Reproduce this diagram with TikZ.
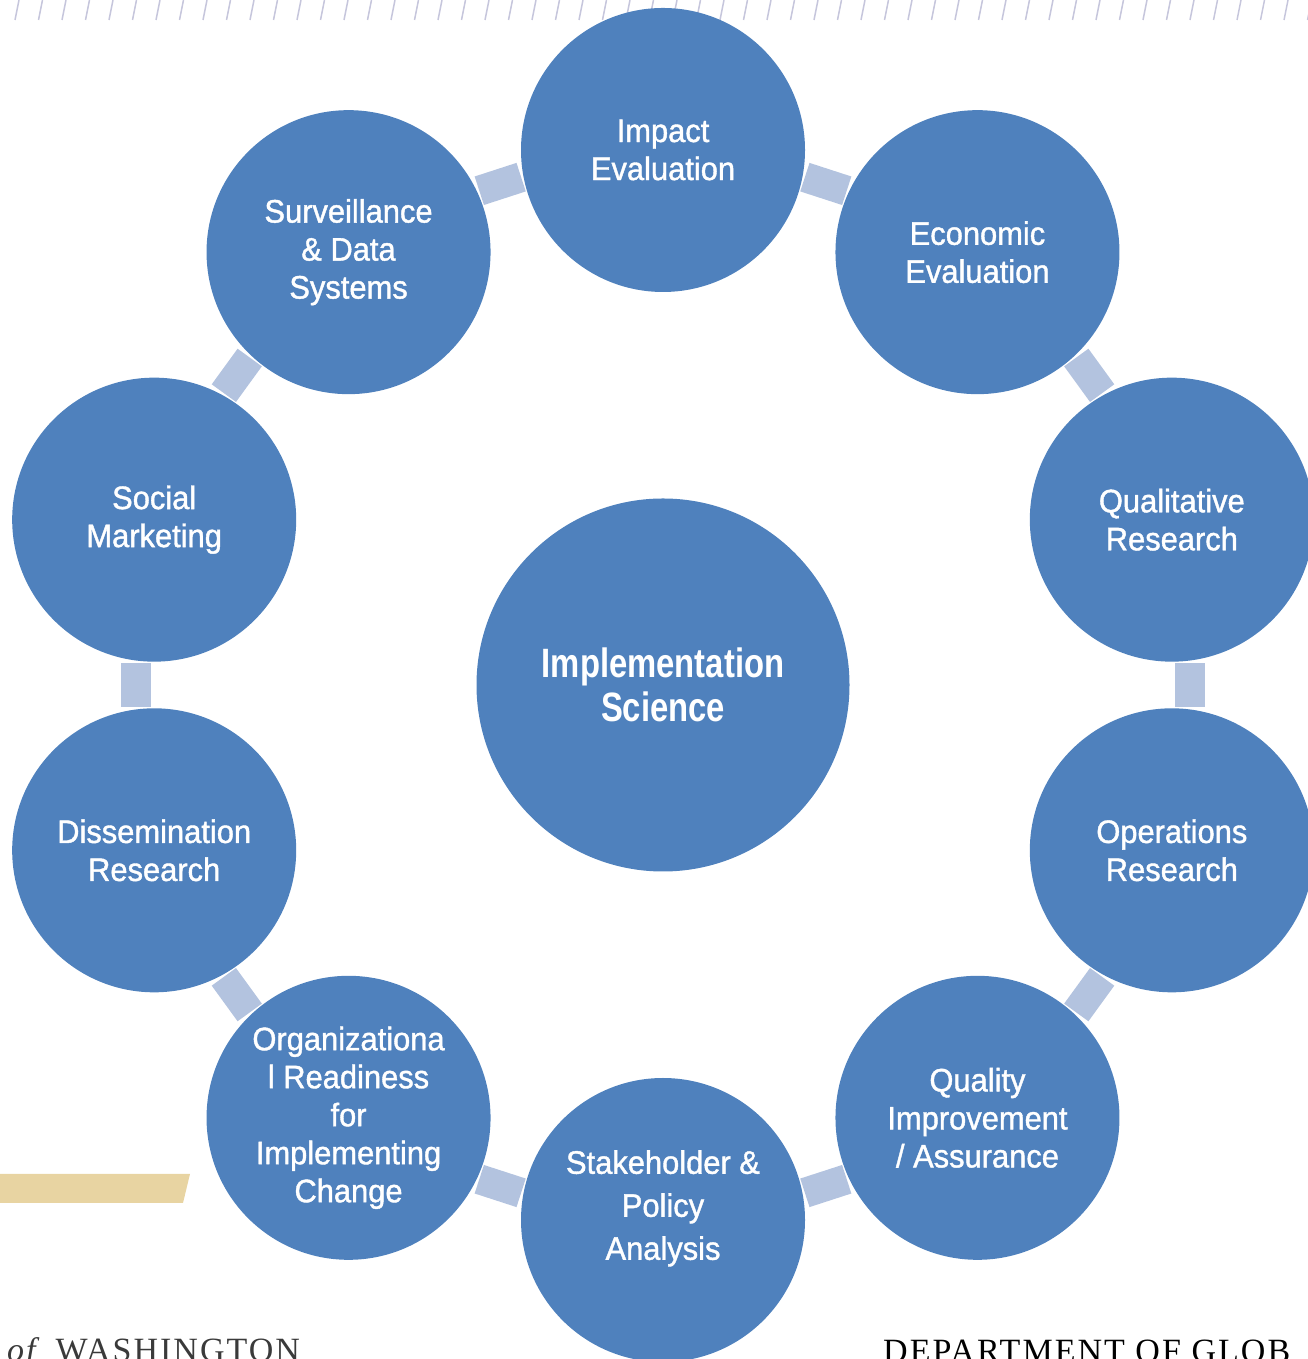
\documentclass[tikz,border=0pt]{standalone}
\usepackage{fontspec}
\usetikzlibrary{calc}

\newfontfamily\labelfont[FakeStretch=0.95,FakeBold=1.2]{Liberation Sans}
\newfontfamily\hubfont[FakeStretch=0.8]{Liberation Sans}
\newfontfamily\footfont[LetterSpace=6]{Liberation Serif}

\definecolor{ringblue}{HTML}{4F81BD}
\definecolor{linkblue}{HTML}{B3C3DF}
\definecolor{hatchgray}{HTML}{C6C6DC}
\definecolor{goldbar}{HTML}{E8D4A2}
\definecolor{footgray}{HTML}{3A3A3A}

\tikzset{
  topic/.style={circle, fill=ringblue, minimum size=284bp, inner sep=0pt,
    text=white, align=center,
    font=\labelfont\fontsize{32.5bp}{38bp}\selectfont},
  hub/.style={circle, fill=ringblue, minimum size=373bp, inner sep=0pt,
    text=white, align=center,
    font=\hubfont\bfseries\fontsize{41bp}{44bp}\selectfont},
  link/.style={rectangle, fill=linkblue, minimum width=30bp,
    minimum height=44bp, inner sep=0pt},
  hatch/.style={draw=hatchgray, line width=1.5bp},
}

\begin{document}
\begin{tikzpicture}[x=1bp, y=1bp]
  \useasboundingbox (0,0) rectangle (1308,1359);
  \clip (0,0) rectangle (1308,1359);

  % hatched rule along the top edge
  \foreach \i in {0,...,55}
    \draw[hatch] ({15+23.5*\i},1339) -- ++(4,20);

  % gold band at the lower left
  \fill[goldbar] (0,185) -- (190,185) -- (183,156) -- (0,156) -- cycle;

  % centre of the ring
  \coordinate (C) at (663,674);

  \node[hub] (hub) at (C) {Implementation\\Science};

  % the ten topics around the ring
  \node[topic] (impact)  at ($(C)+(90:535)$)   {Impact\\Evaluation};
  \node[topic] (econ)    at ($(C)+(54:535)$)   {Economic\\Evaluation};
  \node[topic] (qual)    at ($(C)+(18:535)$)   {Qualitative\\Research};
  \node[topic] (oper)    at ($(C)+(-18:535)$)  {Operations\\Research};
  \node[topic] (quality) at ($(C)+(-54:535)$)  {Quality\\Improvement\\/ Assurance};
  \node[topic, text depth=30bp] (stake) at ($(C)+(-90:535)$)
    {Stakeholder \&\\[5bp]Policy\\[5bp]Analysis};
  \node[topic] (org)     at ($(C)+(-126:535)$) {Organizationa\\l Readiness\\for\\Implementing\\Change};
  \node[topic] (diss)    at ($(C)+(-162:535)$) {Dissemination\\Research};
  \node[topic] (social)  at ($(C)+(162:535)$)  {Social\\Marketing};
  \node[topic] (surv)    at ($(C)+(126:535)$)  {Surveillance\\\& Data\\Systems};

  % short links between neighbouring topics
  \foreach \p/\q/\ang in {impact/econ/72, econ/qual/36, qual/oper/0,
      oper/quality/-36, quality/stake/-72, stake/org/-108, org/diss/-144,
      diss/social/180, social/surv/144, surv/impact/108}
    \node[link, rotate=\ang] (link-\p) at ($(\p)!0.5!(\q)!18bp!90:(\q)$) {};

  % footer lettering
  \node[anchor=base west, inner sep=0pt, text=footgray,
        font=\footfont\fontsize{34bp}{34bp}\selectfont] (uw) at (7,-2)
    {\textit{of}\hspace{14bp}WASHINGTON};
  \node[anchor=base west, inner sep=0pt, text=black,
        font=\footfont\fontsize{34bp}{34bp}\selectfont] (dept) at (883,-3)
    {DEPARTMENT OF GLOB};
\end{tikzpicture}
\end{document}
